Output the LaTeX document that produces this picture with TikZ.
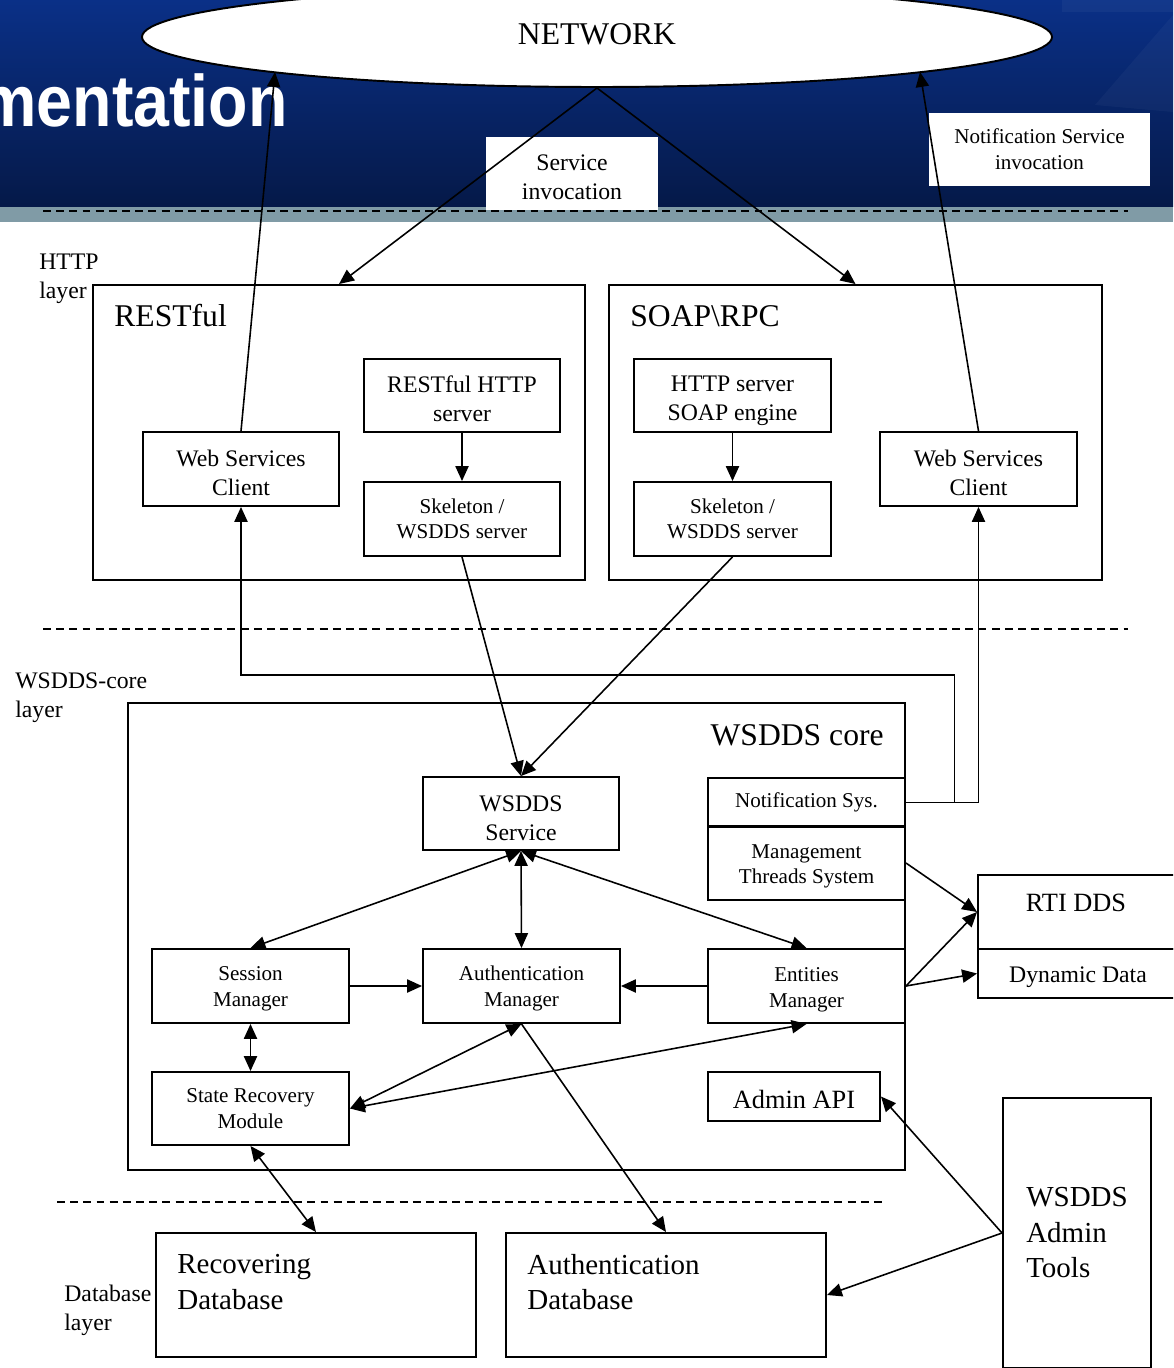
\documentclass[tikz,border=0pt]{standalone}
\usepackage{fontspec}
\setmainfont{Liberation Serif}
\setsansfont{Liberation Sans}
\usetikzlibrary{arrows.meta,shapes.geometric}
\definecolor{bannertop}{RGB}{10,48,135}
\definecolor{bannerbot}{RGB}{5,25,72}
\definecolor{stripgrey}{RGB}{128,155,166}
\newcommand\fsmall{\fontsize{12}{14.6}\selectfont}
\newcommand\fmid{\fontsize{13.5}{16.4}\selectfont}
\newcommand\fapi{\fontsize{15}{18}\selectfont}
\newcommand\fbig{\fontsize{18}{21}\selectfont}
\newcommand\fdb{\fontsize{16.5}{20.2}\selectfont}
% caption of a box: #1 box name, #2 font, #3 downward shift (drawing units), #4 text
\newcommand\boxtext[4]{\node[capt, font=#2, yshift=-#3*0.567pt] (#1t) at (#1) {#4};}
\begin{document}
\begin{tikzpicture}[x=0.02cm,y=-0.02cm,
  box/.style={draw, line width=1.1pt, inner sep=0pt, align=center},
  capt/.style={inner sep=0pt, align=center},
  sz/.style 2 args={minimum width=#1*0.02cm, minimum height=#2*0.02cm},
  conn/.style={line width=0.9pt},
  layerline/.style={line width=0.9pt, dash pattern=on 4.5pt off 3pt},
  >={Triangle[length=8.5pt,width=7.5pt]},
  txt/.style={inner sep=0pt, align=left}]
\useasboundingbox (0,0) rectangle (1173,1368);
\clip (0,0) rectangle (1173,1368);
\fill[white] (0,0) rectangle (1173,1368);

% slide banner
\shade[top color=bannertop, bottom color=bannerbot] (0,0) rectangle (1173,207);
\fill[white, opacity=0.04] (1062,0) rectangle (1173,12);
\fill[white, opacity=0.035] (1095,105) -- (1173,15) -- (1173,112) -- cycle;
\fill[stripgrey] (0,207) rectangle (1173,222);
\node[anchor=base east, text=white, inner sep=0pt, xscale=0.885,
      font=\sffamily\bfseries\fontsize{41.5}{41.5}\selectfont] (title) at (288,127) {Implementation};

% network cloud
\node[ellipse, draw, fill=white, line width=1.1pt, inner sep=0pt, sz={910}{100}] (net) at (597,37) {};
\node[font=\fbig, inner sep=0pt] (nettext) at (597,34) {NETWORK};
\coordinate (netL) at (275,72);
\coordinate (netR) at (920,72);

% invocation captions
\node[fill=white, inner sep=0pt, sz={172}{73}] (svcinv) at (572,173.5) {};
\boxtext{svcinv}{\fmid}{4}{Service\\invocation}
\node[fill=white, inner sep=0pt, sz={221}{73}, align=center, font=\fsmall] (notinv) at (1039.5,149.5) {Notification Service\\invocation};

% layer separators
\draw[layerline] (43,211) -- (1128,211);
\draw[layerline] (43,629) -- (1128,629);
\draw[layerline] (57,1202) -- (883,1202);

% layer names
\node[txt, anchor=west, font=\fmid] (lhttp) at (39,278.5) {HTTP\\layer};
\node[txt, anchor=west, font=\fmid] (lcore) at (15,697.5) {WSDDS-core\\layer};
\node[txt, anchor=west, font=\fmid] (ldb) at (64,1310) {Database\\layer};

% HTTP layer
\node[box, sz={492}{295}] (restful) at (339,432.5) {};
\node[txt, anchor=base west, font=\fbig] (restfultext) at (114,326) {RESTful};
\node[box, sz={493}{295}] (soap) at (855.5,432.5) {};
\node[txt, anchor=base west, font=\fbig] (soaptext) at (630,326) {SOAP\textbackslash RPC};

\node[box, sz={196}{74}] (wscl) at (241,469) {};
\boxtext{wscl}{\fmid}{4}{Web Services\\Client}
\node[box, sz={196}{73}] (rhttp) at (462,395.5) {};
\boxtext{rhttp}{\fmid}{3.5}{RESTful HTTP\\server}
\node[box, sz={196}{74}, font=\fsmall] (skl) at (462,519) {Skeleton /\\WSDDS server};
\node[box, sz={197}{73}] (shttp) at (732.5,395.5) {};
\boxtext{shttp}{\fmid}{5.5}{HTTP server\\SOAP engine}
\node[box, sz={197}{74}, font=\fsmall] (skr) at (732.5,519) {Skeleton /\\WSDDS server};
\node[box, sz={197}{74}] (wscr) at (978.5,469) {};
\boxtext{wscr}{\fmid}{4}{Web Services\\Client}

% WSDDS core layer
\node[box, sz={777}{467}] (core) at (516.5,936.5) {};
\node[txt, anchor=base east, font=\fbig] (coretext) at (884,745) {WSDDS core};

\node[box, sz={196}{73}] (wsvc) at (521,813.5) {};
\boxtext{wsvc}{\fmid}{4.5}{WSDDS\\Service}
\node[box, sz={197}{49}, font=\fsmall] (notif) at (806.5,802.5) {Notification Sys.};
\node[box, sz={197}{74}] (mgmt) at (806.5,863) {};
\boxtext{mgmt}{\fsmall}{3.5}{Management\\Threads System}
\node[box, sz={197}{74}] (sess) at (250.5,986) {};
\boxtext{sess}{\fsmall}{3}{Session\\Manager}
\node[box, sz={197}{74}] (auth) at (521.5,986) {};
\boxtext{auth}{\fsmall}{2.5}{Authentication\\Manager}
\node[box, sz={197}{74}] (ent) at (806.5,986) {};
\boxtext{ent}{\fsmall}{3.5}{Entities\\Manager}
\node[box, sz={197}{73}, font=\fsmall] (state) at (250.5,1108.5) {State Recovery\\Module};
\node[box, sz={172}{49}] (api) at (794,1096.5) {};
\boxtext{api}{\fapi}{2.5}{Admin API}

% DDS middleware
\node[box, sz={200}{74}] (rti) at (1078,912) {};
\node[inner sep=0pt, font=\fapi] (rtitext) at (1076,903) {RTI DDS};
\node[box, sz={200}{49}] (dyn) at (1078,973.5) {};
\boxtext{dyn}{\fmid}{3.5}{Dynamic Data}

% admin tools
\node[box, sz={148}{270}, align=left, font=\fdb] (tools) at (1077,1233) {WSDDS\\Admin\\Tools};

% database layer
\node[box, sz={320}{124}] (recdb) at (316,1295) {};
\node[txt, anchor=west, font=\fdb] (recdbtext) at (177,1282) {Recovering\\Database};
\node[box, sz={320}{124}] (authdb) at (666,1295) {};
\node[txt, anchor=west, font=\fdb] (authdbtext) at (527,1282) {Authentication\\Database};

% network connections
\draw[conn,->] (net.south) -- (restful.north);
\draw[conn,->] (net.south) -- (soap.north);
\draw[conn,->] (wscl.north) -- (netL);
\draw[conn,->] (wscr.north) -- (netR);

% HTTP layer internals
\draw[conn,->] (rhttp.south) -- (skl.north);
\draw[conn,->] (shttp.south) -- (skr.north);
\draw[conn,->] (skl.south) -- (wsvc.north);
\draw[conn,->] (skr.south) -- (wsvc.north);

% notifications back to the clients
\draw[conn,->] (notif.east) -- ++(48.5,0) -- ++(0,-127.5) -| (wscl.south);
\draw[conn,->] (notif.east) -| (wscr.south);

% core internals
\draw[conn,<->] (wsvc.south) -- (sess.north);
\draw[conn,<->] (wsvc.south) -- (auth.north);
\draw[conn,<->] (wsvc.south) -- (ent.north);
\draw[conn,->] (sess.east) -- (auth.west);
\draw[conn,->] (ent.west) -- (auth.east);
\draw[conn,<->] (sess.south) -- (state.north);
\draw[conn,<->] (state.east) -- (auth.south);
\draw[conn,<->] (state.east) -- (ent.south);

% to the databases
\draw[conn,->] (auth.south) -- (authdb.north);
\draw[conn,<->] (state.south) -- (recdb.north);

% to DDS
\draw[conn,->] (mgmt.east) -- (rti.west);
\draw[conn,->] (ent.east) -- (rti.west);
\draw[conn,->] (ent.east) -- (dyn.west);

% admin tools
\draw[conn,->] (tools.west) -- (api.east);
\draw[conn,->] (tools.west) -- (authdb.east);
\end{tikzpicture}
\end{document}
